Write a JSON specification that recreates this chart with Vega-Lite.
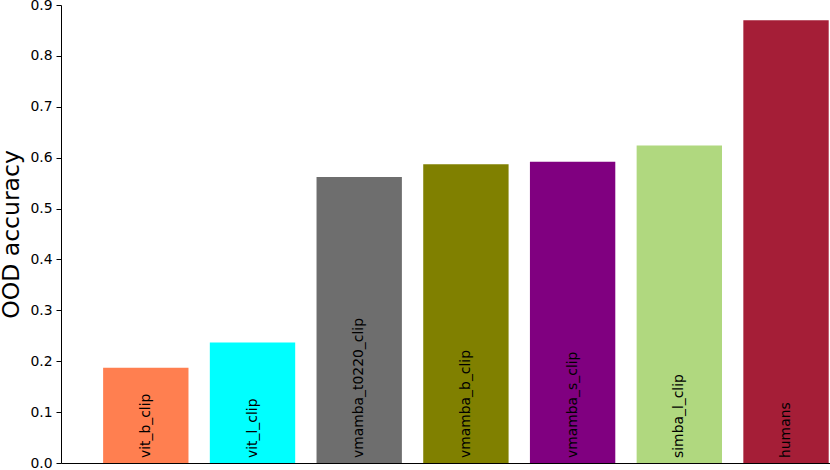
{
  "$schema": "https://vega.github.io/schema/vega-lite/v6.json",
  "width": 769,
  "height": 458,
  "autosize": "none",
  "padding": {"left": 61, "top": 5, "right": 0, "bottom": 7},
  "background": "white",
  "config": {
    "view": {"stroke": null},
    "font": "DejaVu Sans"
  },
  "data": {
    "values": [
      {"model": "vit_b_clip", "accuracy": 0.187},
      {"model": "vit_l_clip", "accuracy": 0.237},
      {"model": "vmamba_t0220_clip", "accuracy": 0.562},
      {"model": "vmamba_b_clip", "accuracy": 0.587},
      {"model": "vmamba_s_clip", "accuracy": 0.592},
      {"model": "simba_l_clip", "accuracy": 0.624},
      {"model": "humans", "accuracy": 0.870}
    ]
  },
  "encoding": {
    "x": {
      "field": "model",
      "type": "nominal",
      "sort": null,
      "scale": {"paddingInner": 0.2, "paddingOuter": 0.2035, "align": 0.97},
      "axis": {
        "title": null,
        "labels": false,
        "ticks": false,
        "domain": true,
        "domainColor": "black",
        "domainWidth": 1
      }
    }
  },
  "layer": [
    {
      "mark": {"type": "bar"},
      "encoding": {
        "y": {
          "field": "accuracy",
          "type": "quantitative",
          "scale": {"domain": [0, 0.9], "nice": false},
          "axis": {
            "title": "OOD accuracy",
            "titleFont": "DejaVu Sans",
            "titleFontSize": 23.5,
            "titleFontWeight": "normal",
            "titleColor": "black",
            "titlePadding": 6,
            "values": [0, 0.1, 0.2, 0.3, 0.4, 0.5, 0.6, 0.7, 0.8, 0.9],
            "format": ".1f",
            "labelFont": "DejaVu Sans",
            "labelFontSize": 13.9,
            "labelColor": "black",
            "labelPadding": 4,
            "tickColor": "black",
            "tickSize": 5,
            "tickWidth": 1,
            "domainColor": "black",
            "domainWidth": 1,
            "grid": false
          }
        },
        "color": {
          "field": "model",
          "type": "nominal",
          "scale": {
            "domain": ["vit_b_clip", "vit_l_clip", "vmamba_t0220_clip", "vmamba_b_clip", "vmamba_s_clip", "simba_l_clip", "humans"],
            "range": ["#FF7F50", "#00FFFF", "#6E6E6E", "#808000", "#800080", "#B0D87F", "#A51E37"]
          },
          "legend": null
        }
      }
    },
    {
      "mark": {
        "type": "text",
        "angle": 270,
        "align": "left",
        "baseline": "middle",
        "dx": 5,
        "font": "DejaVu Sans",
        "fontSize": 13.9,
        "color": "black"
      },
      "encoding": {
        "y": {"datum": 0, "type": "quantitative"},
        "text": {"field": "model", "type": "nominal"}
      }
    }
  ]
}
